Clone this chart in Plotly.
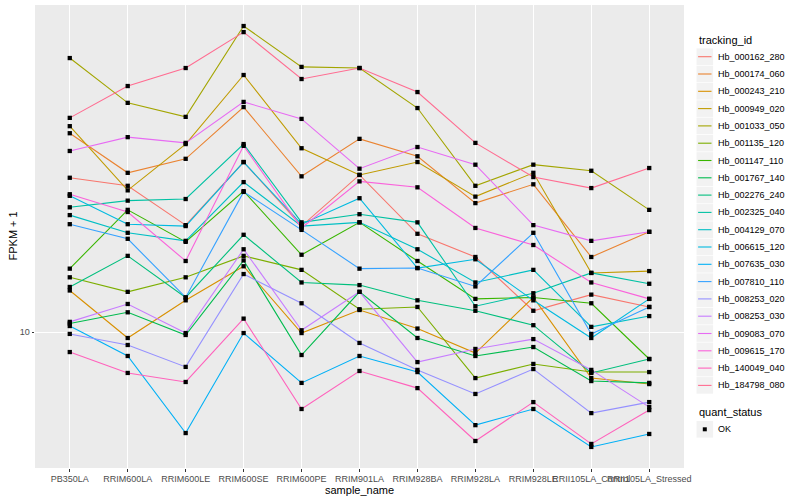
import plotly.graph_objects as go

samples = ["PB350LA", "RRIM600LA", "RRIM600LE", "RRIM600SE", "RRIM600PE", "RRIM901LA",
           "RRIM928BA", "RRIM928LA", "RRIM928LE", "RRII105LA_Control", "RRII105LA_Stressed"]

tracking_ids = ["Hb_000162_280", "Hb_000174_060", "Hb_000243_210", "Hb_000949_020", "Hb_001033_050",
                "Hb_001135_120", "Hb_001147_110", "Hb_001767_140", "Hb_002276_240", "Hb_002325_040",
                "Hb_004129_070", "Hb_006615_120", "Hb_007635_030", "Hb_007810_110", "Hb_008253_020",
                "Hb_008253_030", "Hb_009083_070", "Hb_009615_170", "Hb_140049_040", "Hb_184798_080"]

colors = ["#F8766D", "#EA8331", "#D89000", "#C09B00", "#A3A500", "#7CAE00", "#39B600", "#00BB4E",
          "#00BF7D", "#00C1A3", "#00BFC4", "#00BAE0", "#00B0F6", "#35A2FF", "#9590FF", "#C77CFF",
          "#E76BF3", "#FA62DB", "#FF62BC", "#FF6C91"]

# FPKM + 1 per sample
Hb_000162_280 = [24.3, 23.2, 18.5, 26.6, 18.4, 24.7, 17.6, 15.4, 11.3, 12.4, 11.55]
Hb_000174_060 = [31.4, 25.0, 27.1, 36.5, 24.5, 30.4, 27.5, 21.0, 23.4, 15.4, 17.8]
Hb_000243_210 = [12.7, 9.66, 12.0, 14.6, 9.94, 11.35, 10.2, 8.86, 12.2, 7.67, 7.41]
Hb_000949_020 = [32.7, 22.6, 29.5, 43.9, 28.8, 24.7, 26.6, 21.8, 25.0, 14.05, 14.2]
Hb_001033_050 = [48.4, 37.4, 34.5, 58.2, 46.0, 45.7, 36.3, 23.2, 26.2, 25.3, 20.2]
Hb_001135_120 = [13.7, 12.6, 13.7, 15.5, 14.3, 11.4, 11.55, 7.67, 8.32, 7.94, 7.94]
Hb_001147_110 = [14.4, 20.2, 16.8, 22.5, 15.6, 18.8, 15.05, 12.1, 12.2, 11.8, 8.56]
Hb_001767_140 = [10.5, 11.2, 9.83, 15.1, 8.76, 12.6, 9.66, 8.71, 9.17, 7.54, 7.46]
Hb_002276_240 = [12.96, 15.5, 12.2, 17.5, 13.3, 13.1, 12.0, 11.3, 10.4, 7.90, 8.56]
Hb_002325_040 = [20.5, 21.3, 21.5, 29.5, 18.8, 19.7, 18.8, 11.6, 12.5, 14.05, 13.2]
Hb_004129_070 = [19.6, 17.7, 16.9, 23.7, 18.4, 18.8, 16.1, 13.3, 14.3, 10.3, 10.96]
Hb_006615_120 = [21.9, 18.6, 18.4, 26.6, 18.6, 21.6, 14.45, 15.2, 12.0, 9.66, 12.1]
Hb_007635_030 = [10.35, 8.71, 5.59, 9.94, 7.46, 8.71, 7.94, 5.85, 6.42, 5.16, 5.56]
Hb_007810_110 = [18.6, 17.1, 12.2, 22.4, 18.0, 14.4, 14.45, 13.0, 17.7, 9.89, 11.55]
Hb_008253_020 = [9.89, 9.28, 8.18, 13.96, 11.8, 9.39, 8.04, 7.0, 8.08, 6.27, 6.68]
Hb_008253_030 = [10.6, 11.75, 9.94, 16.1, 10.1, 12.6, 8.41, 9.07, 9.6, 8.04, 6.49]
Hb_009083_070 = [28.35, 30.7, 29.7, 37.6, 34.1, 25.6, 29.0, 26.2, 18.5, 16.9, 17.8]
Hb_009615_170 = [22.1, 19.95, 15.05, 29.2, 18.2, 23.8, 23.0, 18.2, 16.5, 13.3, 12.1]
Hb_140049_040 = [8.91, 7.90, 7.50, 10.8, 6.42, 7.99, 7.24, 5.34, 6.68, 5.25, 6.38]
Hb_184798_080 = [34.3, 41.2, 45.7, 56.2, 42.9, 45.7, 39.8, 29.7, 24.4, 22.9, 25.7]

series_values = [Hb_000162_280, Hb_000174_060, Hb_000243_210, Hb_000949_020, Hb_001033_050,
                 Hb_001135_120, Hb_001147_110, Hb_001767_140, Hb_002276_240, Hb_002325_040,
                 Hb_004129_070, Hb_006615_120, Hb_007635_030, Hb_007810_110, Hb_008253_020,
                 Hb_008253_030, Hb_009083_070, Hb_009615_170, Hb_140049_040, Hb_184798_080]

quant_status = ["OK"]
y_ticks = [10]
y_tick_labels = ["10"]

FONT = "Liberation Sans, Arial, Helvetica, sans-serif"
W, H = 800, 500
ML, MR, MT, MB = 35, 116, 5, 32
PW, PH = W - ML - MR, H - MT - MB


def px(x):
    return (x - ML) / PW


def py(y):
    return (H - MB - y) / PH


fig = go.Figure()
for name, col, vals in zip(tracking_ids, colors, series_values):
    fig.add_trace(go.Scatter(x=samples, y=vals, mode="lines", name=name,
                             line=dict(color=col, width=1.1), hoverinfo="skip"))

all_x = [s for vals in series_values for s in samples]
all_y = [v for vals in series_values for v in vals]
fig.add_trace(go.Scatter(x=all_x, y=all_y, mode="markers", name=quant_status[0],
                         marker=dict(symbol="square", size=4.3, color="black"),
                         hoverinfo="skip"))

shapes = []
annotations = []

# axis titles
annotations.append(dict(x=px(359), y=py(490), xref="paper", yref="paper", text="sample_name",
                        showarrow=False, xanchor="center", yanchor="middle",
                        font=dict(size=11, color="black", family=FONT)))
annotations.append(dict(x=px(12), y=py(236.5), xref="paper", yref="paper", text="FPKM + 1",
                        showarrow=False, xanchor="center", yanchor="middle", textangle=-90,
                        font=dict(size=11, color="black", family=FONT)))

# ggplot-style legend drawn with shapes and text
LX = 696.5
annotations.append(dict(x=px(LX), y=py(40.5), xref="paper", yref="paper", text="tracking_id",
                        showarrow=False, xanchor="left", yanchor="middle",
                        font=dict(size=11, color="black", family=FONT)))
step = 17.3
for i, (name, col) in enumerate(zip(tracking_ids, colors)):
    cy = 56.7 + i * step
    shapes.append(dict(type="rect", xref="paper", yref="paper", x0=px(LX), x1=px(LX + 16.6),
                       y0=py(cy - 8.3), y1=py(cy + 8.3), fillcolor="#F2F2F2",
                       line=dict(width=0), layer="above"))
    shapes.append(dict(type="line", xref="paper", yref="paper", x0=px(LX + 1.6), x1=px(LX + 15),
                       y0=py(cy), y1=py(cy), line=dict(color=col, width=1.1), layer="above"))
    annotations.append(dict(x=px(LX + 19.5), y=py(cy), xref="paper", yref="paper", text=name,
                            showarrow=False, xanchor="left", yanchor="middle",
                            font=dict(size=9, color="black", family=FONT)))

annotations.append(dict(x=px(LX), y=py(412.3), xref="paper", yref="paper", text="quant_status",
                        showarrow=False, xanchor="left", yanchor="middle",
                        font=dict(size=11, color="black", family=FONT)))
cy = 429.3
shapes.append(dict(type="rect", xref="paper", yref="paper", x0=px(LX), x1=px(LX + 16.6),
                   y0=py(cy - 8.3), y1=py(cy + 8.3), fillcolor="#F2F2F2",
                   line=dict(width=0), layer="above"))
shapes.append(dict(type="rect", xref="paper", yref="paper", x0=px(LX + 6.3), x1=px(LX + 10.3),
                   y0=py(cy - 2), y1=py(cy + 2), fillcolor="black",
                   line=dict(width=0), layer="above"))
annotations.append(dict(x=px(LX + 19.5), y=py(cy), xref="paper", yref="paper", text=quant_status[0],
                        showarrow=False, xanchor="left", yanchor="middle",
                        font=dict(size=9, color="black", family=FONT)))

fig.update_layout(
    width=W, height=H,
    margin=dict(l=ML, r=MR, t=MT, b=MB, autoexpand=False),
    paper_bgcolor="white", plot_bgcolor="#EBEBEB",
    font=dict(family=FONT, size=9, color="#4D4D4D"),
    showlegend=False,
    shapes=shapes, annotations=annotations,
)
fig.update_xaxes(categoryorder="array", categoryarray=samples, range=[-0.6, 10.6],
                 showgrid=True, gridcolor="white", gridwidth=1.1, zeroline=False,
                 ticks="outside", ticklen=2.5, tickcolor="#333333", tickangle=0,
                 tickfont=dict(size=9, color="#4D4D4D"), automargin=False,
                 showline=False)
fig.update_yaxes(type="log", range=[0.66, 1.8175], tickvals=y_ticks, ticktext=y_tick_labels,
                 showgrid=True, gridcolor="white", gridwidth=1.1, zeroline=False,
                 ticks="outside", ticklen=2.5, tickcolor="#333333", automargin=False,
                 tickfont=dict(size=9, color="#4D4D4D"),
                 showline=False)

fig.write_html("out.html", config={"displayModeBar": False},
               post_script="document.body.style.margin='0';document.body.style.overflow='hidden';")
